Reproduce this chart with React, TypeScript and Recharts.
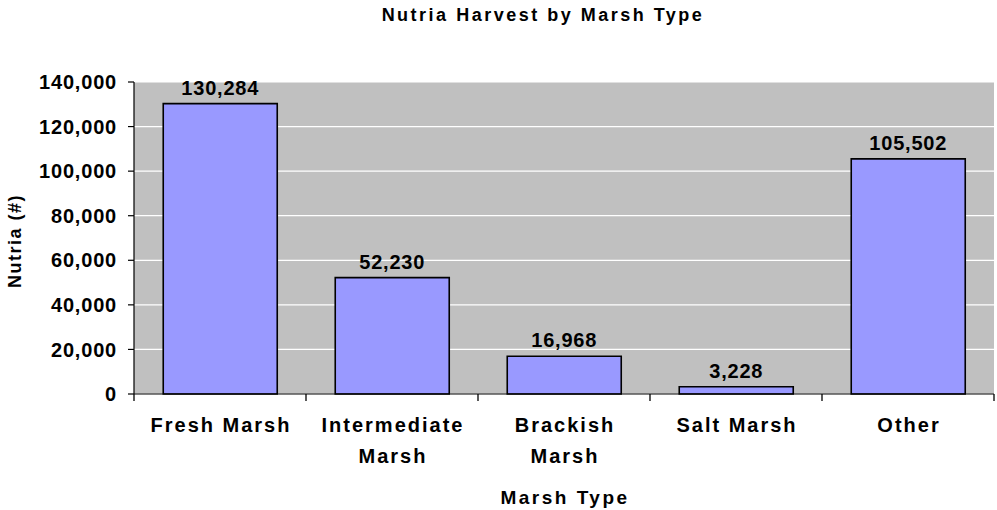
import { BarChart, Bar, XAxis, YAxis, CartesianGrid, LabelList, Label } from 'recharts';

const categories = ['Fresh Marsh', 'Intermediate Marsh', 'Brackish Marsh', 'Salt Marsh', 'Other'];
const harvest = [130284, 52230, 16968, 3228, 105502];
const yTicks = [0, 20000, 40000, 60000, 80000, 100000, 120000, 140000];

const data = categories.map((name, i) => ({ name, value: harvest[i] }));

const FONT = '"Liberation Sans", Arial, Helvetica, sans-serif';
const fmt = (v: number) => Number(v).toLocaleString('en-US');

// label plus a tick mark on the left boundary of each category (and the right one for the last)
function CategoryTick({ x, y, payload, index }: any) {
  const name = String(payload.value);
  const lines = name.length > 12 ? name.split(' ') : [name];
  const half = payload.offset || 0;
  return (
    <g>
      <line x1={x - half} x2={x - half} y1={y} y2={y + 7} stroke="#000" strokeWidth={1.3} />
      {index === categories.length - 1 && (
        <line x1={x + half} x2={x + half} y1={y} y2={y + 7} stroke="#000" strokeWidth={1.3} />
      )}
      <text x={x} y={y} textAnchor="middle" fontFamily={FONT} fontWeight="bold" fontSize={20} letterSpacing={2} fill="#000">
        {lines.map((l, i) => (
          <tspan key={i} x={x + 1} dy={i === 0 ? 38 : 31}>{l}</tspan>
        ))}
      </text>
    </g>
  );
}

function XTitle({ viewBox }: any) {
  const { x, y, width } = viewBox;
  return (
    <text x={x + width / 2 + 1} y={y + 110} textAnchor="middle" fontFamily={FONT} fontWeight="bold" fontSize={19} letterSpacing={2.5} fill="#000">
      Marsh Type
    </text>
  );
}

function YTitle({ viewBox }: any) {
  const { x, y, height } = viewBox;
  const cx = x + 21;
  const cy = y + height / 2 + 3;
  return (
    <text x={cx} y={cy} transform={`rotate(-90 ${cx} ${cy})`} textAnchor="middle" fontFamily={FONT} fontWeight="bold" fontSize={18} letterSpacing={1.5} fill="#000">
      Nutria (#)
    </text>
  );
}

export default function App() {
  return (
    <div style={{ position: 'absolute', left: 0, top: 0, width: 997, height: 510, background: '#fff' }}>
      <div
        style={{
          position: 'absolute',
          top: 5,
          left: 543,
          transform: 'translateX(-50%)',
          whiteSpace: 'nowrap',
          fontFamily: FONT,
          fontWeight: 'bold',
          fontSize: 18,
          lineHeight: '20px',
          letterSpacing: 2.5,
          color: '#000',
        }}
      >
        Nutria Harvest by Marsh Type
      </div>
      <BarChart
        width={997}
        height={510}
        data={data}
        margin={{ top: 82, right: 3, bottom: 0, left: 0 }}
        barCategoryGap="17%"
      >
        <CartesianGrid vertical={false} stroke="#ffffff" strokeWidth={1.2} fill="#c0c0c0" />
        <XAxis
          dataKey="name"
          height={116}
          tickLine={false}
          tickSize={0}
          tickMargin={0}
          interval={0}
          axisLine={{ stroke: '#000', strokeWidth: 1.2 }}
          tick={<CategoryTick />}
        >
          <Label content={<XTitle />} />
        </XAxis>
        <YAxis
          width={134}
          domain={[0, 140000]}
          ticks={yTicks}
          tickFormatter={fmt}
          tickSize={6}
          tickMargin={11}
          axisLine={{ stroke: '#000', strokeWidth: 1.2 }}
          tickLine={{ stroke: '#000', strokeWidth: 1.2 }}
          tick={{ fill: '#000', fontSize: 20, fontWeight: 'bold', fontFamily: FONT, letterSpacing: 0.8 }}
        >
          <Label content={<YTitle />} />
        </YAxis>
        <Bar dataKey="value" fill="#9999ff" stroke="#000" strokeWidth={1.6} isAnimationActive={false}>
          <LabelList
            dataKey="value"
            position="top"
            offset={9}
            formatter={fmt}
            fill="#000"
            fontSize={20}
            fontWeight="bold"
            fontFamily={FONT}
            letterSpacing={0.8}
          />
        </Bar>
      </BarChart>
    </div>
  );
}
